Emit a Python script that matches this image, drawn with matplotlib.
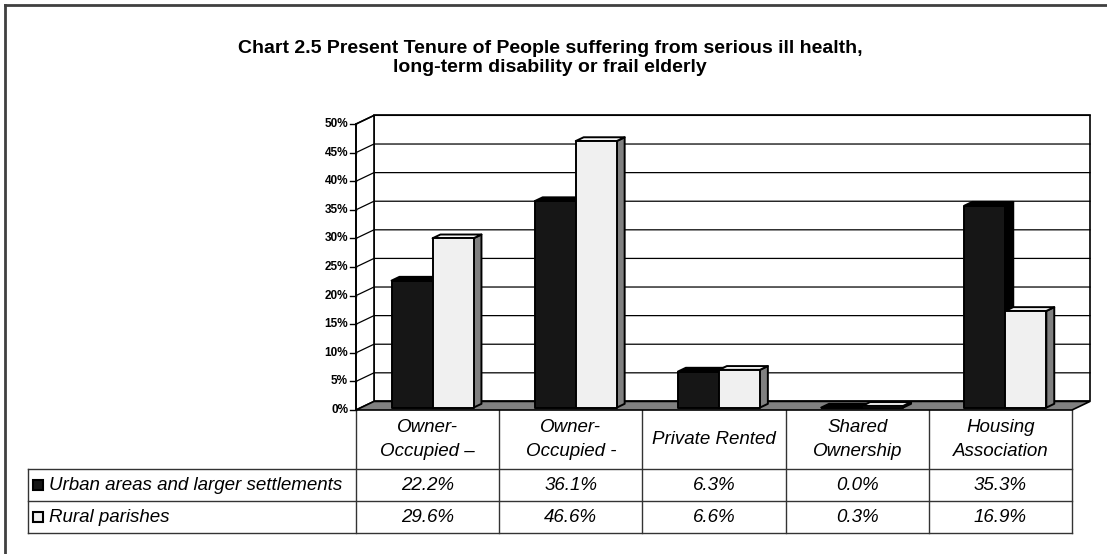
import numpy as np
import matplotlib.pyplot as plt
from matplotlib.patches import Polygon, Rectangle
from matplotlib.transforms import blended_transform_factory

plt.rcParams['font.family'] = ['Liberation Sans', 'DejaVu Sans']

# data
categories = ['Owner-\nOccupied \u2013', 'Owner-\nOccupied -', 'Private Rented',
              'Shared\nOwnership', 'Housing\nAssociation']
series_names = ['Urban areas and larger settlements', 'Rural parishes']
urban = [22.2, 36.1, 6.3, 0.0, 35.3]
rural = [29.6, 46.6, 6.6, 0.3, 16.9]
yticks = [0, 5, 10, 15, 20, 25, 30, 35, 40, 45, 50]
title = ('Chart 2.5 Present Tenure of People suffering from serious ill health,\n'
         'long-term disability or frail elderly')

W, H = 1107, 554
fig = plt.figure(figsize=(W / 100, H / 100), dpi=100)

# background/layout axes in pixel units
bg = fig.add_axes([0, 0, 1, 1], zorder=0)
bg.set_xlim(0, W)
bg.set_ylim(H, 0)
bg.axis('off')

# chart axes (front plane of the 3d box)
ax = fig.add_axes([356 / W, 1 - 410 / H, 716 / W, 286 / H], zorder=1)
ax.set_xlim(0, len(categories))
ax.set_ylim(0, 50)
ax.axis('off')

n = len(categories)
DX, DY = 0.1257, 1.5          # depth offset of the back wall
BW, OFF = 0.2863, 0.213       # bar width, gap before first bar
F0, F1 = 0.28, 0.72           # bar depth range (fraction of box depth)

# walls
ax.add_patch(Rectangle((DX, DY), n, 50, fc='white', ec='black', lw=1.2,
                       clip_on=False, zorder=1))
ax.add_patch(Polygon([(0, 0), (DX, DY), (DX, 50 + DY), (0, 50)], closed=True,
                     fc='white', ec='black', lw=1.2, clip_on=False, zorder=1))
for v in yticks[1:]:
    ax.plot([0, DX, n + DX], [v, v + DY, v + DY], color='black', lw=0.9,
            clip_on=False, zorder=2)

# floor
ax.add_patch(Polygon([(0, 0), (n, 0), (n + DX, DY), (DX, DY)], closed=True,
                     fc='#808080', ec='black', lw=1.2, clip_on=False, zorder=3))

# front axis with ticks and labels
ax.plot([0, 0], [0, 50], color='black', lw=1.2, clip_on=False, zorder=4)
for v in yticks:
    ax.plot([-0.045, 0], [v, v], color='black', lw=1, clip_on=False, zorder=4)
    ax.text(-0.055, v, f'{v}%', ha='right', va='center', fontsize=8.5,
            fontweight='bold', clip_on=False)


def draw_bar(x0, v, front, top, side, z):
    ox0, oy0 = F0 * DX, F0 * DY
    ox1, oy1 = F1 * DX, F1 * DY
    kw = dict(ec='black', lw=1.4, clip_on=False, zorder=z, joinstyle='round')
    ax.add_patch(Polygon([(x0 + BW + ox0, oy0), (x0 + BW + ox1, oy1),
                          (x0 + BW + ox1, v + oy1), (x0 + BW + ox0, v + oy0)],
                         closed=True, fc=side, **kw))
    ax.add_patch(Polygon([(x0 + ox0, v + oy0), (x0 + BW + ox0, v + oy0),
                          (x0 + BW + ox1, v + oy1), (x0 + ox1, v + oy1)],
                         closed=True, fc=top, **kw))
    ax.add_patch(Rectangle((x0 + ox0, oy0), BW, v, fc=front, **kw))


for i in range(n):
    draw_bar(i + OFF, urban[i], '#161616', '#000000', '#000000', 5 + 2 * i)
    draw_bar(i + OFF + BW, rural[i], '#f0f0f0', '#f8f8f8', '#808080', 6 + 2 * i)

# data table
tr = blended_transform_factory(ax.transData, bg.transData)
line_kw = dict(color='#333333', lw=1)
y_head, y_r1, y_r2, y_bot = 410, 469, 501, 533
tbl_left = 28
x_right_px = 1072
for y in (y_r1, y_r2, y_bot):
    bg.plot([tbl_left, x_right_px], [y, y], **line_kw)
bg.plot([tbl_left, tbl_left], [y_r1, y_bot], **line_kw)
for i in range(n + 1):
    ax.plot([i, i], [y_head, y_bot], transform=tr, clip_on=False, **line_kw)

fs = 13.5
for i, cat in enumerate(categories):
    ax.text(i + 0.5, (y_head + y_r1) / 2, cat, transform=tr, ha='center',
            va='center', fontsize=fs, style='italic', linespacing=1.5,
            clip_on=False)
    ax.text(i + 0.5, (y_r1 + y_r2) / 2, f'{urban[i]:.1f}%', transform=tr,
            ha='center', va='center', fontsize=fs, style='italic', clip_on=False)
    ax.text(i + 0.5, (y_r2 + y_bot) / 2, f'{rural[i]:.1f}%', transform=tr,
            ha='center', va='center', fontsize=fs, style='italic', clip_on=False)

# legend keys inside table
key_colors = ['#161616', '#f0f0f0']
for k, (name, yc) in enumerate(zip(series_names, [(y_r1 + y_r2) / 2, (y_r2 + y_bot) / 2])):
    bg.add_patch(Rectangle((33, yc - 5), 10, 10, fc=key_colors[k], ec='black', lw=1.5))
    bg.text(49, yc, name, ha='left', va='center', fontsize=fs, style='italic')

# title
bg.text(550, 58, title, ha='center', va='center', fontsize=14,
        fontweight='bold', linespacing=1.18)

# outer frame (top and left visible)
bg.plot([5, 5], [H, 5], color='#404040', lw=2)
bg.plot([5, W], [5, 5], color='#404040', lw=2)

fig.savefig('out.png', dpi=100)
